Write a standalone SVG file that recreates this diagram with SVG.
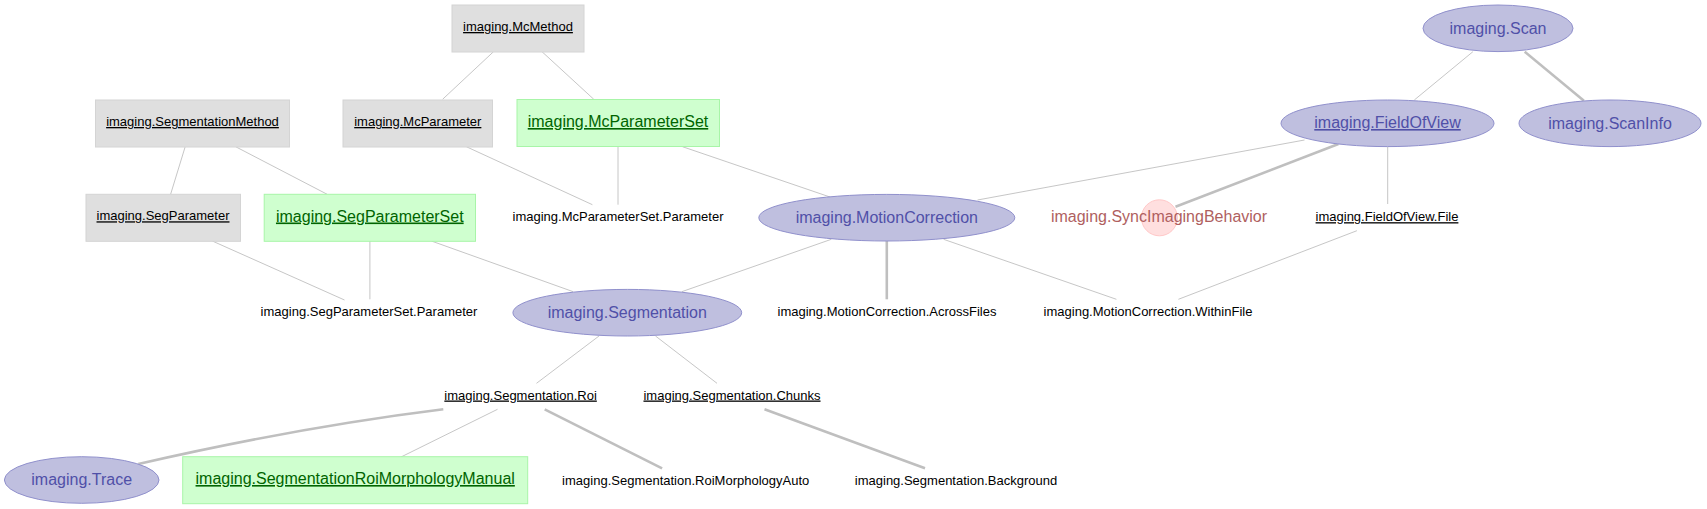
<svg xmlns="http://www.w3.org/2000/svg" width="1707" height="509" viewBox="0 0 1707 509">
<style>
text{font-family:"Liberation Sans",Arial,sans-serif;text-anchor:middle}
.lk rect{fill:#dfdfdf;stroke:#d4d4d4;stroke-width:1}
.lk text{font-size:13px;fill:#000;text-decoration:underline}
.mn rect{fill:#cfffcf;stroke:#a8f5a8;stroke-width:1}
.mn text{font-size:16px;fill:#006400;text-decoration:underline}
.im ellipse{fill:#bfbfdf;stroke:#9090cc;stroke-width:1}
.im text{font-size:16px;fill:#5050a8}
.cp circle{fill:#ffdfdf;stroke:#ffc8c8;stroke-width:1}
.cp text{font-size:16px;fill:#af5f5f}
.pt text{font-size:13px;fill:#000}
.u{text-decoration:underline}
#edges path,#edges line{stroke:#bfbfbf;fill:none}
.th{stroke-width:2.6}
.tn{stroke-width:0.9}
</style>
<rect width="1707" height="509" fill="#fff"/>
<g id="edges">
<line class="tn" x1="493.5" y1="51.7" x2="442.6" y2="99.3"/>
<line class="tn" x1="542" y1="51.7" x2="593.8" y2="99.3"/>
<line class="tn" x1="185.2" y1="146.7" x2="170.6" y2="194.3"/>
<line class="tn" x1="235.6" y1="146.7" x2="327.2" y2="194.3"/>
<line class="tn" x1="466.3" y1="146.7" x2="592.4" y2="204.7"/>
<line class="tn" x1="618" y1="146.7" x2="618" y2="204.7"/>
<line class="tn" x1="682.5" y1="146.7" x2="830" y2="197"/>
<line class="tn" x1="212.3" y1="241" x2="344.5" y2="300"/>
<line class="tn" x1="369.9" y1="241" x2="369.9" y2="299.3"/>
<line class="tn" x1="431.4" y1="241" x2="573.2" y2="291.7"/>
<line class="tn" x1="831.3" y1="239.3" x2="681.8" y2="291.7"/>
<line class="th" x1="886.8" y1="241" x2="886.8" y2="299.3"/>
<line class="tn" x1="943.6" y1="239.3" x2="1116.4" y2="299.3"/>
<line class="tn" x1="1356.9" y1="230.7" x2="1178.4" y2="299.3"/>
<line class="tn" x1="1304.5" y1="140" x2="977.5" y2="200"/>
<line class="th" x1="1338.4" y1="144" x2="1175.5" y2="206.7"/>
<line class="tn" x1="1387.7" y1="146.7" x2="1387.7" y2="204"/>
<line class="tn" x1="1472.9" y1="51.7" x2="1414.3" y2="100"/>
<line class="th" x1="1524.7" y1="51.7" x2="1583.9" y2="100.7"/>
<line class="tn" x1="599" y1="336" x2="536.5" y2="383.3"/>
<line class="tn" x1="655.5" y1="336" x2="717" y2="383.3"/>
<path class="th" d="M443.3,409.3 Q300,427 138.3,464"/>
<line class="tn" x1="497.5" y1="409.3" x2="400.4" y2="457.3"/>
<line class="th" x1="544.7" y1="409.3" x2="662.1" y2="468.3"/>
<line class="th" x1="764.5" y1="409.3" x2="925" y2="468.3"/>
</g>
<g id="imaging.McMethod" class="lk"><rect x="452" y="5" width="132" height="47"/><text x="518" y="31">imaging.McMethod</text></g>
<g id="imaging.SegmentationMethod" class="lk"><rect x="95.5" y="100" width="194" height="47"/><text x="192.5" y="126">imaging.SegmentationMethod</text></g>
<g id="imaging.McParameter" class="lk"><rect x="343" y="100" width="149.5" height="47"/><text x="417.8" y="126">imaging.McParameter</text></g>
<g id="imaging.SegParameter" class="lk"><rect x="86" y="194.3" width="154.5" height="47"/><text x="163" y="220.3">imaging.SegParameter</text></g>
<g id="imaging.McParameterSet" class="mn"><rect x="517" y="99.5" width="202.5" height="47"/><text x="618" y="127">imaging.McParameterSet</text></g>
<g id="imaging.SegParameterSet" class="mn"><rect x="264.2" y="194.3" width="211.3" height="47"/><text x="369.8" y="221.5">imaging.SegParameterSet</text></g>
<g id="imaging.SegmentationRoiMorphologyManual" class="mn"><rect x="182.7" y="456.7" width="345" height="47"/><text x="355.2" y="484">imaging.SegmentationRoiMorphologyManual</text></g>
<g id="imaging.Scan" class="im"><ellipse cx="1498" cy="28.3" rx="75" ry="23.3"/><text x="1498" y="33.5">imaging.Scan</text></g>
<g id="imaging.FieldOfView" class="im"><ellipse cx="1387.5" cy="123.3" rx="106.5" ry="23.3"/><text class="u" x="1387.5" y="128">imaging.FieldOfView</text></g>
<g id="imaging.ScanInfo" class="im"><ellipse cx="1610" cy="123.3" rx="91" ry="23.3"/><text x="1610" y="128.5">imaging.ScanInfo</text></g>
<g id="imaging.MotionCorrection" class="im"><ellipse cx="886.8" cy="217.7" rx="128" ry="23.3"/><text x="886.8" y="222.5">imaging.MotionCorrection</text></g>
<g id="imaging.Segmentation" class="im"><ellipse cx="627.3" cy="312.7" rx="114.4" ry="23.3"/><text x="627.3" y="318">imaging.Segmentation</text></g>
<g id="imaging.Trace" class="im"><ellipse cx="81.7" cy="480" rx="77.3" ry="23.3"/><text x="81.7" y="485.3">imaging.Trace</text></g>
<g id="imaging.SyncImagingBehavior" class="cp"><circle cx="1159.4" cy="217.8" r="18"/><text x="1159" y="222.3">imaging.SyncImagingBehavior</text></g>
<g id="imaging.McParameterSet.Parameter" class="pt"><text x="618" y="221.2">imaging.McParameterSet.Parameter</text></g>
<g id="imaging.FieldOfView.File" class="pt"><text class="u" x="1387" y="221.2">imaging.FieldOfView.File</text></g>
<g id="imaging.SegParameterSet.Parameter" class="pt"><text x="369" y="316.2">imaging.SegParameterSet.Parameter</text></g>
<g id="imaging.MotionCorrection.AcrossFiles" class="pt"><text x="887" y="316.2">imaging.MotionCorrection.AcrossFiles</text></g>
<g id="imaging.MotionCorrection.WithinFile" class="pt"><text x="1148" y="316.2">imaging.MotionCorrection.WithinFile</text></g>
<g id="imaging.Segmentation.Roi" class="pt"><text class="u" x="520.6" y="399.5">imaging.Segmentation.Roi</text></g>
<g id="imaging.Segmentation.Chunks" class="pt"><text class="u" x="732" y="399.5">imaging.Segmentation.Chunks</text></g>
<g id="imaging.Segmentation.RoiMorphologyAuto" class="pt"><text x="685.7" y="484.5">imaging.Segmentation.RoiMorphologyAuto</text></g>
<g id="imaging.Segmentation.Background" class="pt"><text x="956" y="484.5">imaging.Segmentation.Background</text></g>
</svg>
